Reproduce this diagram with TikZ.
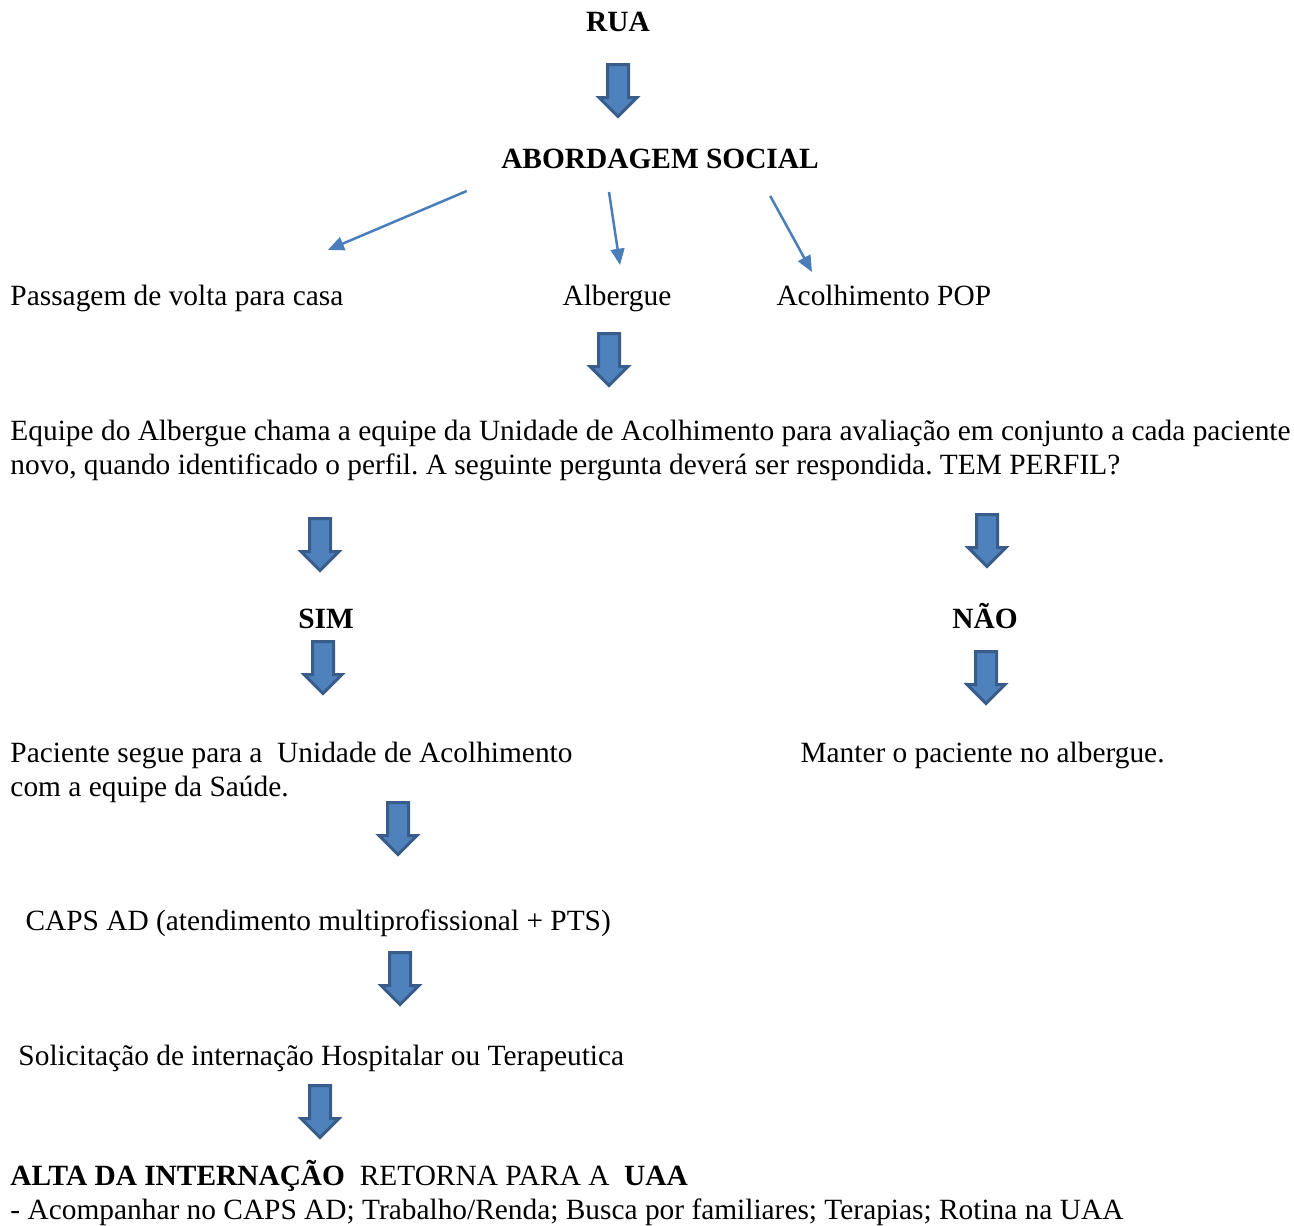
\documentclass[tikz,border=0pt]{standalone}
\usepackage{fontspec}
\setmainfont{Liberation Serif}
\usepackage{tikz}
\usetikzlibrary{shapes.arrows, arrows.meta}
\definecolor{arrowfill}{RGB}{79, 129, 189}
\definecolor{arrowedge}{RGB}{56, 93, 138}
\definecolor{linkblue}{RGB}{74, 126, 187}
\frenchspacing

\begin{document}
\begin{tikzpicture}[
    x=0.4pt, y=-0.4pt,
    every node/.style={inner sep=0pt, font=\fontsize{11.75pt}{13.5pt}\selectfont},
    txt/.style={anchor=base west, align=left},
    title/.style={anchor=base, font=\fontsize{11.75pt}{13.5pt}\selectfont\bfseries},
    downarrow/.style={single arrow, draw=arrowedge, fill=arrowfill, line width=1.2pt,
                      rotate=-90, anchor=tail, minimum height=20.8pt,
                      inner xsep=0pt, inner ysep=3.6pt, single arrow head extend=3.4pt},
    link/.style={-{Triangle[length=6.5pt, width=5.5pt]}, line width=1pt, linkblue}
]
\useasboundingbox (0,0) rectangle (1294,1226);

% titles and texts (multi-line nodes sit on their last baseline)
\node[title] (rua) at (618,32) {RUA};
\node[title] (abord) at (660,168) {ABORDAGEM SOCIAL};

\node[txt] (passagem) at (10,305) {Passagem de volta para casa};
\node[anchor=base] (albergue) at (617,305) {Albergue};
\node[txt] (pop) at (776,305) {Acolhimento POP};

\node[txt] (equipe) at (10,474)
    {Equipe do Albergue chama a equipe da Unidade de Acolhimento para avaliação em conjunto a cada paciente\\
     novo, quando identificado o perfil. A seguinte pergunta deverá ser respondida. TEM PERFIL?};

\node[title] (sim) at (326,628) {SIM};
\node[title] (nao) at (985,628) {NÃO};

\node[txt] (paciente) at (10,796)
    {Paciente segue para a \ Unidade de Acolhimento\\ com a equipe da Saúde.};
\node[txt] (manter) at (800,762) {Manter o paciente no albergue.};

\node[txt] (caps) at (25,930) {CAPS AD (atendimento multiprofissional + PTS)};
\node[txt] (solic) at (18,1065) {Solicitação de internação Hospitalar ou Terapeutica};

\node[txt] (alta) at (10,1219)
    {\textbf{ALTA DA INTERNAÇÃO} \ RETORNA PARA A \ \textbf{UAA}\\
     - Acompanhar no CAPS AD; Trabalho/Renda; Busca por familiares; Terapias; Rotina na UAA};

% block arrows
\node[downarrow] (a1) at (618,63) {};
\node[downarrow] (a2) at (609,332) {};
\node[downarrow] (a3) at (320,517) {};
\node[downarrow] (a4) at (987,513) {};
\node[downarrow] (a5) at (323,640) {};
\node[downarrow] (a6) at (986,650) {};
\node[downarrow] (a7) at (398,801) {};
\node[downarrow] (a8) at (400,951) {};
\node[downarrow] (a9) at (320,1084) {};

% thin arrows
\draw[link] ([shift={(-34,23)}]abord.base west) -- ([shift={(-16,-55)}]passagem.base east);
\draw[link] ([shift={(-51,24)}]abord.base) -- ([shift={(3,-40)}]albergue.base);
\draw[link] ([shift={(-49,28)}]abord.base east) -- ([shift={(36,-33)}]pop.base west);

\end{tikzpicture}
\end{document}
